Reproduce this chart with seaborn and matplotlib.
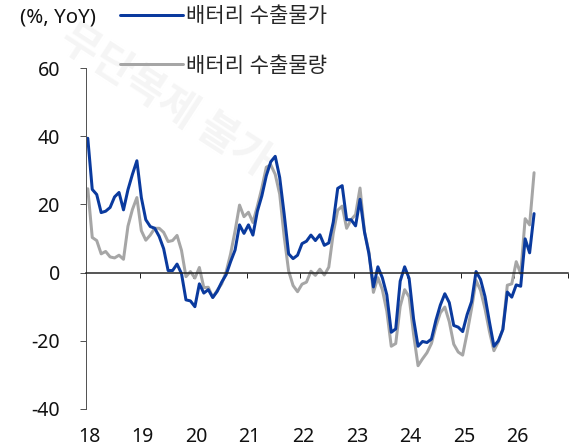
import numpy as np
import pandas as pd
import matplotlib
matplotlib.use("Agg")
import matplotlib.pyplot as plt
import seaborn as sns
from matplotlib.lines import Line2D
from matplotlib.transforms import ScaledTranslation

# ---- data (monthly, Jan 2018 onward, % YoY) ----
year_labels = ["18", "19", "20", "21", "22", "23", "24", "25", "26"]
y_ticks = [-40, -20, 0, 20, 40, 60]
series_names = ["배터리 수출물가", "배터리 수출물량"]

price = [39.4, 24.4, 22.9, 17.6, 18.0, 19.1, 22.2, 23.5, 18.4, 24.3, 28.8, 32.8,
         22.0, 15.5, 13.5, 13.0, 10.6, 7.0, 0.6, 0.6, 2.5, -0.3, -8.0, -8.3,
         -10.0, -3.3, -6.0, -5.0, -7.3, -5.5, -2.8, -0.6, 3.2, 6.6, 14.0, 11.5,
         14.0, 11.0, 18.0, 22.5, 28.4, 32.5, 34.1, 27.9, 17.2, 5.5, 4.1, 5.1,
         8.5, 9.2, 11.0, 9.4, 11.1, 8.0, 8.7, 14.8, 24.7, 25.5, 15.5, 15.5,
         13.7, 21.5, 11.9, 5.5, -4.2, 1.7, -1.5, -6.5, -17.5, -16.5, -2.5, 1.7,
         -1.7, -13.6, -21.6, -20.2, -20.5, -19.5, -14.0, -9.5, -6.2, -8.8, -15.5, -16.0,
         -17.3, -12.3, -8.5, 0.3, -2.0, -7.0, -14.5, -21.6, -20.0, -16.7, -5.7, -7.2,
         -3.6, -4.0, 9.9, 5.8, 17.3]

volume = [24.6, 10.3, 9.4, 5.5, 6.2, 4.6, 4.3, 5.1, 3.9, 13.6, 18.5, 22.0,
          12.3, 9.5, 11.0, 13.0, 13.0, 11.8, 9.1, 9.4, 10.9, 6.5, -1.2, 0.3,
          -1.6, 1.5, -4.4, -4.3, -7.3, -5.2, -3.3, 0.2, 5.5, 12.2, 19.8, 16.4,
          17.7, 14.7, 19.5, 24.8, 30.9, 31.6, 28.8, 23.0, 10.6, 0.5, -3.8, -5.6,
          -3.4, -2.8, 0.4, -0.8, 1.0, -0.7, 1.6, 11.5, 18.3, 19.5, 13.0, 15.5,
          17.0, 24.8, 12.0, 6.0, -5.8, -1.5, -5.0, -11.3, -21.6, -20.8, -9.9, -5.0,
          -7.1, -18.1, -27.3, -25.3, -23.5, -20.8, -15.8, -11.8, -10.1, -14.4, -21.0, -23.3,
          -24.2, -17.7, -10.5, -2.3, -5.2, -10.6, -17.3, -22.9, -20.3, -16.6, -3.7, -3.3,
          3.2, -0.3, 15.8, 14.0, 29.3]

BLUE = "#0A3A9E"
GRAY = "#A6A6A6"

months = np.arange(len(price)) + 0.4
df = pd.DataFrame({"month": months, series_names[0]: price, series_names[1]: volume})

sns.set_theme(style="white")
plt.rcParams["font.family"] = ["Noto Sans", "Noto Sans CJK KR", "DejaVu Sans"]
FS = 19.5
DPI = 72
W, H = 575, 446
fig = plt.figure(figsize=(W / DPI, H / DPI), dpi=DPI, facecolor="white")

# watermark (very faint)
fig.text(165 / W, 1 - 100 / H, "무단복제 불가", rotation=-33, fontsize=42,
         color="#f5f5f5", ha="center", va="center", fontweight="bold", zorder=-5,
         family=["Noto Sans CJK KR"])

ax = fig.add_axes([86 / W, 1 - 409 / H, (568 - 86) / W, (409 - 68) / H])
ax.patch.set_alpha(0)

sns.lineplot(data=df, x="month", y=series_names[1], color=GRAY, lw=3, ax=ax)
sns.lineplot(data=df, x="month", y=series_names[0], color=BLUE, lw=3, ax=ax)

ax.set_xlim(0, 108)
ax.set_ylim(-40, 60)
ax.set_xlabel("")
ax.set_ylabel("")
ax.set_yticks(y_ticks)
ax.set_yticklabels([str(v) for v in y_ticks])
ax.set_xticks(np.arange(0, 109, 12))
ax.set_xticklabels(year_labels + [""])

for s in ["top", "right"]:
    ax.spines[s].set_visible(False)
ax.spines["bottom"].set_position(("data", 0))
ax.spines["bottom"].set_color("#222222")
ax.spines["bottom"].set_linewidth(1.5)
ax.spines["left"].set_color("#555555")
ax.spines["left"].set_linewidth(1)

ax.tick_params(axis="y", direction="out", length=6, width=1, color="#555555",
               pad=20, labelsize=FS, labelcolor="#111111", left=True)
ax.tick_params(axis="x", direction="out", length=5, width=1, color="#222222",
               pad=149, labelsize=FS, labelcolor="#111111", bottom=True)
off = ScaledTranslation(3 / DPI, 0, fig.dpi_scale_trans)
for lab in ax.get_xticklabels():
    lab.set_transform(lab.get_transform() + off)
ax.grid(False)

fig.text(20 / W, 1 - 18 / H, "(%, YoY)", fontsize=20.5, color="#111111",
         ha="left", va="center")

handles = [Line2D([], [], color=BLUE, lw=3), Line2D([], [], color=GRAY, lw=3)]
fig.legend(handles, series_names, loc="upper left",
           bbox_to_anchor=(120 / W, 1 - 6 / H), frameon=False, fontsize=21,
           handlelength=3.0, handletextpad=0.12, labelspacing=1.36,
           borderpad=0, borderaxespad=0)

fig.savefig("out.png", dpi=DPI, facecolor="white")
